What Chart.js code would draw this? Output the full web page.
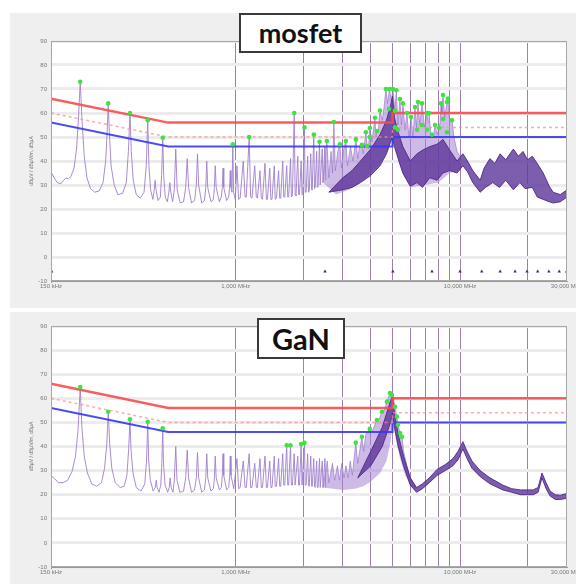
<!DOCTYPE html>
<html>
<head>
<meta charset="utf-8">
<script src="https://cdn.jsdelivr.net/npm/chart.js@4"></script>
<style>
  html, body { margin: 0; padding: 0; background: #fff; }
  body { width: 576px; height: 585px; position: relative; overflow: hidden; }
  .panel { position: absolute; left: 10px; width: 566px; background: #efefef; }
  #p1 { top: 13px; height: 295px; }
  #p2 { top: 312px; height: 272px; }
  .panel canvas { position: absolute; left: 0; top: 0; }
  .tag { position: absolute; box-sizing: border-box; background: #fff; border: 2px solid #3a3a3a;
         font-family: Lato, "Open Sans", sans-serif; font-weight: bold; color: #111; text-align: center; }
  #t1 { left: 239px; top: 13px; width: 123px; height: 40px; font-size: 27px; line-height: 35px; }
  #t2 { left: 257px; top: 318px; width: 88px; height: 41px; font-size: 29px; line-height: 37px; }
</style>
</head>
<body>
<div class="panel" id="p1"><canvas id="c1" width="566" height="295"></canvas></div>
<div class="panel" id="p2"><canvas id="c2" width="566" height="272"></canvas></div>
<div class="tag" id="t1">mosfet</div>
<div class="tag" id="t2">GaN</div>

<script>
// ---------- axes ----------
const xTickValues = [0.15, 1, 2, 3, 4, 5, 6, 7, 8, 9, 10, 20, 30];
const xTickLabels = ['150 kHz', '1,000 MHz', '', '', '', '', '', '', '', '', '10,000 MHz', '', '30,000 MHz'];
const yTitle = 'dBµV / dBµV/m, dBµA';

// ---------- limits (MHz, dB) ----------
const qpLimit = [[0.15, 66], [0.5, 56], [5, 56], [5, 60], [30, 60]];
const qpMargin = [[0.15, 60], [0.5, 50], [5, 50], [5, 54], [30, 54]];
const avLimit = [[0.15, 56], [0.5, 46], [5, 46], [5, 50], [30, 50]];

// ---------- mosfet ----------
const mosfetTrace = [
  [0.150, 35.5], [0.155, 33], [0.160, 31], [0.166, 30.5], [0.171, 32], [0.175, 33], [0.179, 32.5], [0.184, 33.5],
  [0.190, 37], [0.195, 45], [0.199, 58], [0.2025, 73], [0.206, 58], [0.211, 42], [0.217, 33], [0.225, 28.5],
  [0.235, 27], [0.246, 27.5], [0.256, 31], [0.263, 40], [0.267, 52], [0.270, 64], [0.273, 52], [0.278, 38],
  [0.287, 30], [0.298, 26], [0.313, 26.5], [0.325, 31], [0.332, 44], [0.3375, 60], [0.342, 44], [0.349, 32],
  [0.360, 26], [0.375, 24.5], [0.390, 27], [0.399, 38], [0.405, 57], [0.410, 38], [0.417, 28], [0.427, 24],
  [0.433, 28], [0.437, 32], [0.441, 28], [0.450, 23.5], [0.461, 25], [0.467, 34], [0.4725, 50], [0.477, 34],
  [0.485, 25], [0.495, 23], [0.503, 27], [0.508, 31], [0.513, 27], [0.523, 23], [0.532, 28], [0.540, 45],
  [0.548, 28], [0.565, 22.5], [0.585, 23], [0.598, 29], [0.6075, 41], [0.616, 29], [0.635, 22.5], [0.655, 23.5],
  [0.667, 30], [0.675, 43], [0.683, 30], [0.705, 22.5], [0.725, 23.5], [0.735, 29], [0.7425, 40], [0.750, 29],
  [0.775, 23], [0.795, 24], [0.803, 29], [0.810, 38], [0.818, 29], [0.845, 23], [0.862, 25], [0.871, 29],
  [0.8775, 37], [0.884, 29], [0.910, 23.5], [0.930, 25], [0.940, 30], [0.945, 36], [0.952, 29], [0.962, 27],
  [0.970, 47], [0.978, 27], [0.995, 24], [1.0125, 38], [1.030, 24], [1.046, 24.5], [1.080, 40], [1.100, 25],
  [1.114, 25], [1.1475, 50], [1.165, 25], [1.181, 24.5], [1.215, 38], [1.235, 25], [1.249, 24.5], [1.2825, 36],
  [1.300, 24.5], [1.316, 24], [1.350, 39], [1.370, 24], [1.384, 24], [1.4175, 37], [1.435, 24], [1.451, 24],
  [1.485, 38], [1.500, 24], [1.519, 24.5], [1.5525, 36], [1.570, 24.5], [1.586, 24.5], [1.620, 40], [1.637, 25],
  [1.654, 25], [1.6875, 38], [1.705, 25], [1.721, 25], [1.755, 41], [1.770, 25], [1.789, 25.5], [1.8225, 60],
  [1.840, 26], [1.856, 25.5], [1.890, 42], [1.907, 26], [1.924, 26], [1.9575, 40], [1.975, 26], [1.991, 26.5],
  [2.025, 54], [2.040, 27], [2.059, 27], [2.0925, 42], [2.110, 27], [2.126, 27.5], [2.160, 43], [2.180, 28],
  [2.194, 28], [2.2275, 51], [2.245, 28.5], [2.261, 29], [2.295, 44], [2.310, 29], [2.329, 29.5], [2.3625, 48],
  [2.380, 30], [2.396, 30], [2.430, 45], [2.450, 31], [2.4975, 46], [2.520, 32]
];
const mosfetOuterLow = [
  [2.45, 31], [2.8, 26], [3.2, 28], [3.6, 31], [4.0, 35], [4.4, 39], [4.8, 45], [5.02, 50], [5.3, 40],
  [5.6, 34], [6.0, 29], [7.0, 30], [8.0, 31], [9.0, 35], [10.0, 36]
];
const mosfetOuterHigh = [
  [2.45, 31], [2.548, 48.3], [2.6, 33], [2.66, 44], [2.7, 35], [2.739, 56.2], [2.78, 36], [2.85, 44], [2.912, 47],
  [2.96, 37], [3.03, 45], [3.097, 48.3], [3.15, 38], [3.25, 46], [3.33, 40], [3.434, 49], [3.5, 41], [3.57, 46],
  [3.652, 46.7], [3.7, 43], [3.805, 52], [3.845, 46.3], [3.9, 45], [3.963, 53.75], [4.05, 48], [4.174, 58],
  [4.22, 50], [4.261, 52.5], [4.32, 52], [4.395, 61], [4.5, 57], [4.58, 62], [4.674, 70], [4.75, 64], [4.85, 70],
  [4.93, 65], [5.023, 70], [5.127, 61], [5.2, 69.5], [5.288, 55], [5.397, 65.8], [5.48, 55], [5.566, 64],
  [5.68, 53], [5.8, 60], [5.92, 50], [6.044, 58.3], [6.17, 50], [6.297, 62.5], [6.4, 54], [6.494, 64.6],
  [6.62, 55], [6.767, 64], [6.95, 54], [7.124, 60], [7.2, 56], [7.272, 60], [7.4, 52], [7.499, 51], [7.62, 50],
  [7.734, 55], [7.9, 51], [8.06, 54], [8.15, 56], [8.228, 64], [8.3, 60], [8.398, 67.5], [8.55, 58], [8.75, 64.6],
  [8.84, 66], [8.95, 58], [9.21, 57], [9.4, 50], [9.7, 44], [10.0, 42]
];
const mosfetCoreLow = [
  [2.6, 27], [3.0, 28], [3.3, 29], [3.6, 31], [4.0, 34], [4.4, 38], [4.7, 43], [4.9, 48], [5.0, 50], [5.1, 46],
  [5.3, 41], [5.56, 35], [6.0, 29.5], [6.43, 31], [6.8, 29], [7.33, 33], [7.9, 32], [8.4, 35], [9.0, 36],
  [9.7, 35], [10.3, 38], [10.8, 35.5], [11.4, 31], [12.3, 27], [13.0, 29], [14.0, 31], [15.0, 29], [16.0, 32],
  [17.3, 28], [18.5, 31], [19.5, 28.5], [21.0, 29], [22.1, 25], [23.5, 24], [25.0, 23], [26.0, 22.5],
  [28.0, 23], [30.0, 25]
];
const mosfetCoreHigh = [
  [2.6, 27], [3.0, 33], [3.3, 36], [3.6, 40], [4.0, 45], [4.4, 51], [4.7, 57], [4.9, 63], [5.0, 67], [5.1, 58],
  [5.3, 52], [5.56, 46], [6.0, 40], [6.43, 43], [6.8, 44.5], [7.33, 46], [7.9, 47], [8.4, 49], [9.0, 44.5],
  [9.7, 40], [10.3, 43], [10.8, 40], [11.4, 36], [12.3, 32], [12.8, 37], [13.6, 41], [14.3, 39], [15.1, 43],
  [16.0, 40.5], [17.3, 45], [18.2, 42], [19.1, 44], [20.0, 40.5], [21.0, 42], [22.1, 39], [23.5, 35],
  [25.0, 29.5], [26.0, 27], [28.0, 26], [30.0, 28]
];
const mosfetPeaks = [
  [0.2025, 73], [0.270, 64], [0.3375, 60], [0.405, 57], [0.4725, 49.7], [0.970, 47], [1.1475, 50], [1.8225, 60],
  [2.025, 54], [2.2275, 51], [2.3625, 48], [2.548, 48.3], [2.739, 56.2], [2.912, 47], [3.097, 48.3], [3.434, 49],
  [3.652, 46.7], [3.805, 52], [3.845, 46.3], [3.963, 53.75], [3.963, 50], [4.174, 58], [4.261, 52.5], [4.395, 61],
  [4.674, 70], [4.85, 70], [5.023, 70], [5.2, 69.5], [4.82, 61.7], [5.127, 61], [5.127, 54], [5.288, 53],
  [5.397, 65.8], [5.566, 64], [5.8, 60], [6.044, 58.3], [6.297, 62.5], [6.494, 64.6], [6.767, 64], [7.124, 60],
  [7.272, 60], [6.427, 53], [6.767, 55], [7.124, 53], [7.499, 51], [7.734, 55], [8.06, 53.75], [8.228, 64],
  [8.398, 67.5], [8.75, 64.6], [8.84, 66], [8.398, 57.5], [9.21, 57], [8.75, 52]
];
const mosfetMarkers = [0.151, 2.5, 5.02, 7.5, 10.0, 12.5, 15.1, 17.6, 19.9, 22.2, 24.9, 27.7, 29.9];

// ---------- GaN ----------
const ganTrace = [
  [0.150, 28], [0.156, 26.5], [0.162, 25], [0.170, 25], [0.178, 26], [0.186, 29.5], [0.193, 36], [0.198, 47],
  [0.2025, 64.5], [0.206, 48], [0.211, 36], [0.218, 29], [0.228, 24.5], [0.240, 23.5], [0.252, 25], [0.260, 31],
  [0.266, 41], [0.270, 54.5], [0.274, 41], [0.280, 31], [0.290, 25], [0.305, 23], [0.318, 23.5], [0.327, 28],
  [0.333, 39], [0.3375, 51], [0.341, 39], [0.348, 29], [0.360, 23], [0.378, 21.5], [0.393, 24.5], [0.400, 34],
  [0.405, 50], [0.409, 34], [0.416, 26], [0.428, 21.5], [0.438, 23], [0.442, 26], [0.446, 23], [0.455, 21],
  [0.463, 24], [0.468, 33], [0.4725, 47.5], [0.476, 33], [0.484, 24], [0.497, 21], [0.505, 23], [0.510, 27],
  [0.515, 23], [0.525, 21], [0.532, 26], [0.540, 40], [0.547, 26], [0.563, 21], [0.585, 21.5], [0.598, 27],
  [0.6075, 38.5], [0.616, 27], [0.635, 21], [0.655, 22], [0.667, 27], [0.675, 37.5], [0.683, 27], [0.705, 21],
  [0.725, 22], [0.735, 27], [0.7425, 37], [0.750, 27], [0.775, 21.5], [0.795, 22.5], [0.803, 27], [0.810, 36],
  [0.818, 27], [0.845, 22], [0.862, 23], [0.871, 28], [0.8775, 37], [0.884, 28], [0.910, 22], [0.930, 23],
  [0.940, 28], [0.945, 36], [0.952, 28], [0.980, 22.5], [1.0125, 35], [1.030, 22.5], [1.046, 23], [1.080, 34],
  [1.100, 23], [1.114, 23], [1.1475, 37], [1.165, 23], [1.181, 23], [1.215, 33], [1.235, 23], [1.249, 23],
  [1.2825, 35], [1.300, 23], [1.316, 23], [1.350, 36], [1.370, 23], [1.384, 23], [1.4175, 34], [1.435, 23],
  [1.451, 23], [1.485, 36], [1.500, 23.5], [1.519, 23.5], [1.5525, 35], [1.570, 23.5], [1.586, 23.5], [1.620, 37],
  [1.637, 24], [1.654, 24], [1.6875, 40.5], [1.705, 24], [1.721, 24], [1.755, 40.5], [1.770, 24], [1.789, 24],
  [1.8225, 37], [1.840, 24], [1.856, 24], [1.890, 36], [1.907, 24], [1.924, 24], [1.9575, 41], [1.975, 24],
  [1.991, 24], [2.025, 41.5], [2.040, 24], [2.059, 24], [2.0925, 37], [2.110, 24], [2.126, 23.5], [2.160, 36],
  [2.180, 23.5], [2.194, 23.5], [2.2275, 35], [2.245, 23.5], [2.261, 23], [2.295, 34], [2.310, 23], [2.329, 23],
  [2.3625, 35], [2.380, 23], [2.396, 23], [2.430, 34], [2.450, 23], [2.4975, 35], [2.520, 23]
];
const ganOuterLow = [
  [2.45, 23], [3.0, 22], [3.4, 22.5], [3.7, 23.5], [4.0, 25.5], [4.4, 29], [4.7, 34], [4.9, 42], [5.02, 50],
  [5.2, 42], [5.4, 35], [5.7, 28], [6.0, 24], [6.4, 21.5]
];
const ganOuterHigh = [
  [2.45, 23], [2.56, 34], [2.6, 25], [2.7, 33], [2.76, 26], [2.84, 32], [2.9, 26], [2.97, 33], [3.04, 27],
  [3.1, 32], [3.17, 27], [3.24, 34], [3.31, 28], [3.43, 41.6], [3.5, 33], [3.65, 44], [3.72, 38], [3.8, 45],
  [3.96, 47.3], [4.05, 46], [4.26, 51], [4.35, 51], [4.49, 54.4], [4.6, 55], [4.72, 58.6], [4.87, 62.2],
  [4.97, 62], [5.02, 61.4], [5.13, 56.5], [5.23, 52.4], [5.29, 49], [5.4, 45.6], [5.51, 44], [5.6, 38],
  [5.8, 32], [6.0, 27], [6.4, 22.5]
];
const ganCoreLow = [
  [3.5, 27], [4.0, 32], [4.5, 40], [4.9, 50], [5.0, 54], [5.1, 48], [5.3, 40], [5.6, 32], [6.0, 24], [6.4, 21],
  [6.8, 22.5], [7.3, 25], [7.9, 28], [8.6, 30], [9.3, 32], [9.8, 34.5], [10.3, 39], [10.75, 35], [11.3, 31],
  [12.3, 27.5], [13.6, 24.5], [15.5, 22], [17.0, 21], [18.6, 20], [21.2, 20], [22.3, 21], [23.2, 27],
  [24.2, 22.5], [25.2, 19.5], [26.6, 18], [28.0, 18], [30.0, 18.5]
];
const ganCoreHigh = [
  [3.5, 27], [4.0, 38], [4.5, 48], [4.9, 59], [5.0, 61], [5.1, 54], [5.3, 45], [5.6, 36], [6.0, 27], [6.4, 23],
  [6.8, 24.5], [7.3, 27], [7.9, 30.5], [8.6, 32.5], [9.3, 35], [9.8, 38], [10.3, 42], [10.75, 38], [11.3, 34],
  [12.3, 30], [13.6, 27], [15.5, 24], [17.0, 22.5], [18.6, 22], [21.2, 22], [22.3, 23], [23.2, 29], [24.2, 25],
  [25.2, 21.5], [26.6, 20], [28.0, 19.8], [30.0, 20.5]
];
const ganPeaks = [
  [0.2025, 64.7], [0.270, 54.4], [0.3375, 51.3], [0.405, 50.3], [0.4725, 47.6], [1.6875, 40.5], [1.755, 40.5],
  [1.9575, 41], [2.025, 41.5], [3.43, 41.6], [3.65, 44], [3.96, 47.3], [4.26, 51], [4.49, 54.4], [4.72, 58.6],
  [4.87, 62.2], [4.97, 61.4], [5.13, 56.5], [5.23, 52.4], [5.29, 49], [5.4, 45.6], [5.51, 44]
];

// ---------- helpers ----------
Chart.defaults.font.family = '"Liberation Sans", Arial, sans-serif';
Chart.defaults.animation = false;

const xy = arr => arr.map(p => ({ x: p[0], y: p[1] }));

// white plot area with a thin grey frame
const plotFrame = {
  id: 'plotFrame',
  beforeDraw(chart) {
    const a = chart.chartArea, ctx = chart.ctx;
    ctx.save();
    ctx.fillStyle = '#fff';
    ctx.fillRect(a.left, a.top, a.right - a.left, a.bottom - a.top);
    ctx.restore();
  },
  afterDraw(chart) {
    const a = chart.chartArea, ctx = chart.ctx;
    ctx.save();
    ctx.strokeStyle = '#a8a8a8';
    ctx.lineWidth = 1;
    ctx.strokeRect(a.left + 0.5, a.top + 0.5, a.right - a.left - 1, a.bottom - a.top - 1);
    ctx.restore();
  }
};

function buildChart(canvasId, d, padTop, padBottom) {
  const datasets = [
    { data: xy(d.outerLow), borderWidth: 0, pointRadius: 0, fill: false, order: 4 },
    { data: xy(d.outerHigh), borderColor: 'rgba(145,108,198,0.75)', borderWidth: 0.8, pointRadius: 0,
      backgroundColor: 'rgba(165,130,212,0.55)', fill: '-1', order: 4 },
    { data: xy(d.coreLow), borderColor: 'rgba(80,40,135,0.9)', borderWidth: 1, pointRadius: 0, fill: false, order: 3 },
    { data: xy(d.coreHigh), borderColor: 'rgba(80,40,135,0.9)', borderWidth: 1, pointRadius: 0,
      backgroundColor: 'rgba(92,52,152,0.8)', fill: '-1', order: 3 },
    { data: xy(d.trace), borderColor: 'rgba(160,128,205,0.9)', borderWidth: 1, pointRadius: 0, fill: false, order: 2 },
    { data: xy(qpLimit), borderColor: 'rgba(250,75,75,0.9)', borderWidth: 2.5, pointRadius: 0, fill: false, order: 1 },
    { data: xy(qpMargin), borderColor: 'rgba(255,140,140,0.75)', borderWidth: 1.5, borderDash: [3, 3],
      pointRadius: 0, fill: false, order: 1 },
    { data: xy(avLimit), borderColor: 'rgba(55,55,245,0.9)', borderWidth: 2, pointRadius: 0, fill: false, order: 1 },
    { data: xy(d.peaks), showLine: false, pointRadius: 2.3, pointBorderWidth: 0,
      pointBackgroundColor: '#3ee43e', order: 0 }
  ];
  if (d.markers) {
    datasets.push({ data: d.markers.map(f => ({ x: f, y: -6 })), showLine: false, pointStyle: 'triangle',
      pointRadius: 2, pointBorderWidth: 0, pointBackgroundColor: '#4a2a80', order: 0 });
  }

  return new Chart(document.getElementById(canvasId), {
    type: 'line',
    data: { datasets },
    plugins: [plotFrame],
    options: {
      responsive: false,
      layout: { padding: { top: padTop, right: 9, bottom: padBottom, left: 0 } },
      plugins: { legend: { display: false }, tooltip: { enabled: false } },
      scales: {
        x: {
          type: 'logarithmic', min: 0.15, max: 30,
          afterBuildTicks: s => { s.ticks = xTickValues.map(v => ({ value: v })); },
          afterFit: s => { s.height = 12; s.paddingLeft = 0; s.paddingRight = 0; },
          ticks: { autoSkip: false, maxRotation: 0, font: { size: 6 }, color: '#777', padding: 2,
                   callback: (v, i) => xTickLabels[i] },
          grid: { drawTicks: false, lineWidth: 1,
                  color: c => (c.tick && (c.tick.value === 0.15 || c.tick.value === 30)) ? 'rgba(0,0,0,0)' : 'rgba(125,85,150,0.75)' },
          border: { color: '#9a9a9a' }
        },
        y: {
          min: -10, max: 90,
          afterFit: s => { s.width = 41; s.paddingTop = 0; s.paddingBottom = 0; },
          ticks: { stepSize: 10, font: { size: 6 }, color: '#777', padding: 4 },
          grid: { drawTicks: false, lineWidth: 3, color: '#ececec' },
          border: { color: '#9a9a9a' },
          title: { display: true, text: yTitle, font: { size: 5 }, color: '#777', padding: { top: 19, bottom: 0 } }
        }
      }
    }
  });
}

buildChart('c1', {
  trace: mosfetTrace, outerLow: mosfetOuterLow, outerHigh: mosfetOuterHigh,
  coreLow: mosfetCoreLow, coreHigh: mosfetCoreHigh, peaks: mosfetPeaks, markers: mosfetMarkers
}, 28, 15);

buildChart('c2', {
  trace: ganTrace, outerLow: ganOuterLow, outerHigh: ganOuterHigh,
  coreLow: ganCoreLow, coreHigh: ganCoreHigh, peaks: ganPeaks
}, 14, 5);
</script>
</body>
</html>
